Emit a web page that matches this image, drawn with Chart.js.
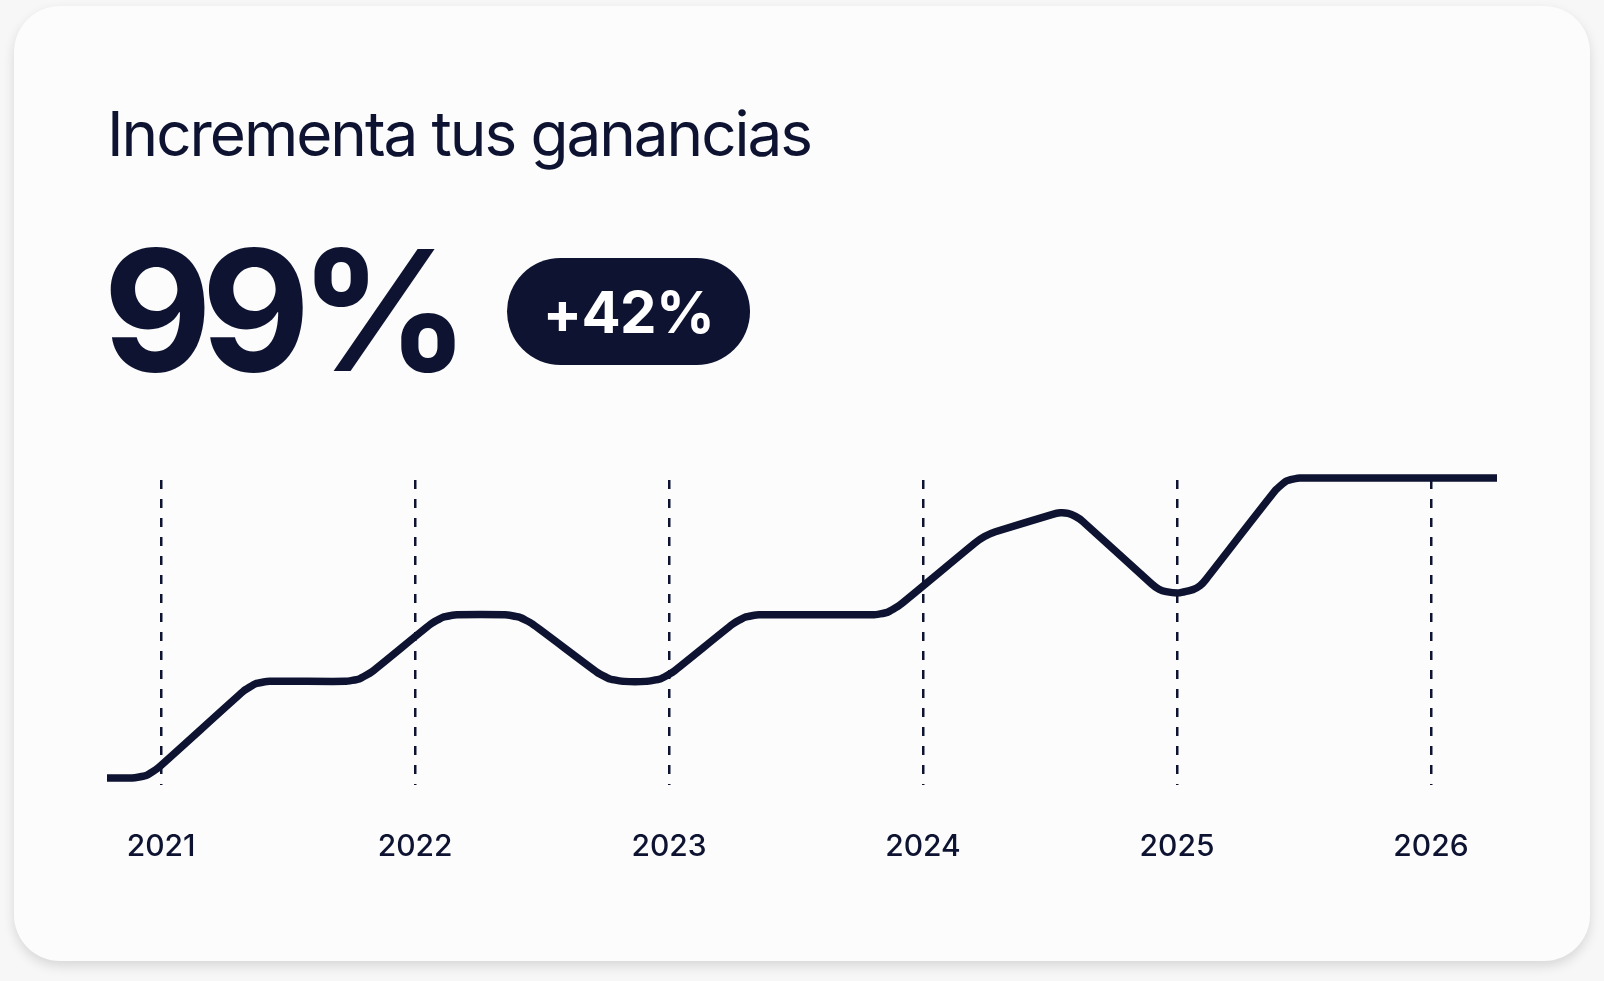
<!DOCTYPE html>
<html lang="es">
<head>
<meta charset="utf-8">
<title>Incrementa tus ganancias</title>
<script src="https://cdn.jsdelivr.net/npm/chart.js@4.4.1/dist/chart.umd.min.js"></script>
<style>
  html, body { margin: 0; padding: 0; }
  body {
    width: 1604px;
    height: 981px;
    background: #f7f7f7;
    font-family: Inter, "Noto Sans", sans-serif;
    color: #0d1331;
    position: relative;
    overflow: hidden;
  }
  .card {
    position: absolute;
    left: 14px;
    top: 6px;
    width: 1576px;
    height: 955px;
    background: #fcfcfc;
    border-radius: 46px;
    box-shadow: 0 5px 12px rgba(0, 0, 0, 0.13);
  }
  .title {
    position: absolute;
    left: 93px;
    top: 97px;
    font-size: 62px;
    font-weight: 400;
    letter-spacing: -0.033em;
    line-height: 1;
    white-space: nowrap;
  }
  .big {
    position: absolute;
    left: 89px;
    top: 220px;
    font-size: 168px;
    font-weight: 700;
    letter-spacing: -0.065em;
    line-height: 1;
  }
  .badge {
    position: absolute;
    left: 493px;
    top: 252px;
    width: 243px;
    height: 107px;
    border-radius: 54px;
    background: #0d1331;
    color: #ffffff;
    font-size: 58px;
    font-weight: 700;
    letter-spacing: -0.01em;
    display: flex;
    align-items: center;
    justify-content: center;
  }
  #chartBox {
    position: absolute;
    left: 93px;
    top: 462px;
    width: 1390px;
    height: 401px;
  }
</style>
</head>
<body>
<div class="card">
  <div class="title">Incrementa tus ganancias</div>
  <div class="big">99%</div>
  <div class="badge">+42%</div>
  <div id="chartBox"><canvas id="growth"></canvas></div>
</div>

<script>
// years shown on the axis
const years = [2021, 2022, 2023, 2024, 2025, 2026];

// line path (incl. points on the rounded corners)
// x in years, y in % of the top level
const pathYears = [
  2020.787,
  2020.886, 2020.941, 2020.989,
  2021.324, 2021.372, 2021.427,
  2021.724, 2021.780, 2021.830,
  2022.060, 2022.110, 2022.165,
  2022.354, 2022.410, 2022.461,
  2022.717, 2022.767, 2022.823,
  2022.909, 2022.965, 2023.015,
  2023.249, 2023.299, 2023.354,
  2023.803, 2023.859, 2023.908,
  2024.204, 2024.242, 2024.285,
  2024.507, 2024.540, 2024.571, 2024.600, 2024.628,
  2024.900, 2024.929, 2024.957, 2025.008, 2025.063, 2025.091, 2025.115,
  2025.389, 2025.431, 2025.484,
  2026.260
];
const pathValues = [
  0,
  0, 0.8, 3.4,
  28.9, 31.4, 32.2,
  32.2, 33.0, 35.4,
  51.2, 53.6, 54.4,
  54.4, 53.6, 51.4,
  35.2, 33.0, 32.2,
  32.2, 33.0, 35.3,
  51.2, 53.6, 54.4,
  54.4, 55.2, 57.6,
  78.3, 80.5, 82.1,
  87.8, 88.4, 88.2, 87.2, 85.6,
  64.7, 62.9, 62.1, 61.7, 62.8, 64.1, 66.3,
  96.0, 99.0, 100,
  100
];

const navy = "#0d1331";

const points = pathYears.map((x, i) => ({ x: x, y: pathValues[i] }));

const ctx = document.getElementById("growth").getContext("2d");

const growth_config = {
    type: 'line',
    data: {
        datasets: [
            {
                label: "Ganancias",
                data: points,
                borderColor: navy,
                borderWidth: 7.5,
                borderCapStyle: 'butt',
                borderJoinStyle: 'round',
                pointRadius: 0,
                tension: 0.15,
                fill: false,
                clip: 8,
            }
        ]
    },
    options: {
        responsive: true,
        maintainAspectRatio: false,
        animation: false,
        layout: {
            padding: { top: 10, left: 0, right: 0, bottom: 0 }
        },
        plugins: {
            legend: { display: false },
            tooltip: { enabled: false },
            title: { display: false }
        },
        scales: {
            x: {
                type: 'linear',
                min: pathYears[0],
                max: pathYears[pathYears.length - 1],
                afterBuildTicks: (scale) => {
                    scale.ticks = years.map(v => ({ value: v }));
                },
                grid: {
                    display: true,
                    drawTicks: true,
                    tickLength: 40,
                    tickColor: 'transparent',
                    color: navy,
                    lineWidth: 2.5,
                },
                border: {
                    display: false,
                    dash: [9, 10],
                    dashOffset: -2,
                },
                ticks: {
                    padding: 4,
                    color: navy,
                    font: { family: 'Inter', size: 30, weight: '500' },
                    callback: (v) => String(v),
                    maxRotation: 0,
                    autoSkip: false,
                }
            },
            y: {
                display: false,
                min: -2.35,
                max: 100,
            }
        }
    }
};

const growth_chart = new Chart(ctx, growth_config);
</script>
</body>
</html>
